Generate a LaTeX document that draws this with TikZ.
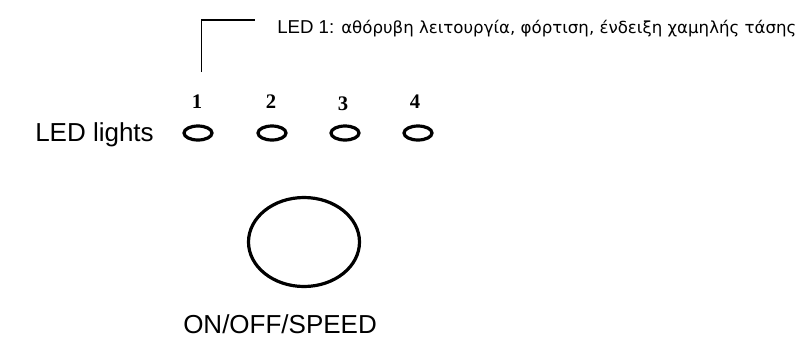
\documentclass[tikz,border=0pt]{standalone}
\usepackage{fontspec}
\setmainfont{Liberation Sans}
\newfontfamily\greekfont{DejaVu Sans}
\newfontfamily\numfont{Liberation Serif}
\begin{document}
\begin{tikzpicture}[x=0.75pt,y=-0.75pt,
  num/.style={font=\numfont\bfseries\fontsize{15.5pt}{18pt}\selectfont,inner sep=0pt,anchor=base},
  label/.style={font=\fontsize{19.5pt}{23pt}\selectfont,inner sep=0pt,anchor=base west},
  ledring/.style={draw=black,line width=2.4pt},
  leader/.style={draw=black,line width=0.8pt}]
\useasboundingbox (0,0) rectangle (797,344);
% leader and note
\coordinate (lbot) at (201.5,72);
\coordinate (lcorner) at (201.5,20);
\coordinate (lend) at (255,20);
\node[anchor=base west,inner sep=0pt,font=\fontsize{14pt}{16pt}\selectfont] (note) at (277,33)
  {LED 1: {\greekfont\fontsize{12.45pt}{14pt}\selectfont αθόρυβη λειτουργία, φόρτιση, ένδειξη χαμηλής τάσης}};
\draw[leader] (lbot) -- (lcorner) -- (lend);
% numbers
\node[num] (n1) at (197,108) {1};
\node[num] (n2) at (271,108) {2};
\node[num] (n3) at (343,110) {3};
\node[num] (n4) at (415,108) {4};
% LEDs
\draw[ledring] (198,133) ellipse [x radius=14, y radius=7];
\draw[ledring] (272,133) ellipse [x radius=14, y radius=7];
\draw[ledring] (345,133) ellipse [x radius=14, y radius=7];
\draw[ledring] (418,133) ellipse [x radius=14, y radius=7];
\node[label] (ledl) at (35,141.7) {LED lights};
% big button
\draw[line width=2.4pt] (304,242) ellipse [x radius=55.5, y radius=44.5];
\node[label] (onoff) at (183,333) {ON/OFF/SPEED};
\end{tikzpicture}
\end{document}
